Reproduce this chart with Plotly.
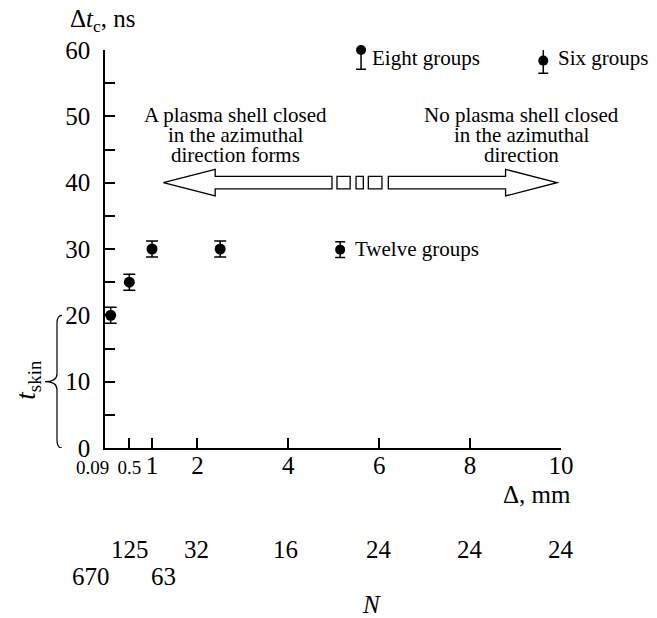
import plotly.graph_objects as go

# Measured delay time vs. gap between wires
delta_mm = [0.09, 0.5, 1.0, 2.5]
dt_ns = [20, 25, 30, 30]
dt_err = [1.2, 1.2, 1.2, 1.2]

# Key symbols for the wire-group configurations
group_names = ["Twelve groups", "Eight groups", "Six groups"]
group_x = [5.14, 5.60, 9.61]
group_y = [29.9, 60.0, 58.4]
group_err_plus = [1.2, 1.2, 2.4]
group_err_minus = [1.2, 2.9, 1.9]

# Axis ticks
x_tick_vals = [0.5, 1, 2, 4, 6, 8, 10]
x_tick_text = ['<span style="font-size:19px">0.5</span>', "1", "2", "4", "6", "8", "10"]
y_tick_vals = list(range(0, 61, 5))
y_tick_text = [str(v) if v % 10 == 0 else "" for v in y_tick_vals]

# Number of wires N under the gap axis
n_labels = ["670", "125", "63", "32", "16", "24", "24", "24"]
n_pos = [-0.34, 0.52, 1.26, 1.98, 3.94, 6.0, 8.0, 10.0]
n_row = [2, 1, 2, 1, 1, 1, 1, 1]

FONT = "Liberation Serif"
W, H = 657, 618
L, R, T, B = 105, 96, 50, 170
X_RANGE = [-0.035, 10]
Y_RANGE = [0, 60]


def px_x(p):
    return (p - L) / (W - L - R)


def px_y(p):
    return (H - B - p) / (H - B - T)


def data_x(v):
    # gap value -> paper fraction along the x axis
    return (v - X_RANGE[0]) / (X_RANGE[1] - X_RANGE[0])


fig = go.Figure()

fig.add_trace(go.Scatter(
    x=delta_mm, y=dt_ns, mode="markers",
    marker=dict(color="black", size=11),
    error_y=dict(type="data", array=dt_err, color="black", thickness=1.5, width=6),
    showlegend=False, hoverinfo="skip", cliponaxis=False,
))

for name, gx, gy, ep, em in zip(group_names, group_x, group_y, group_err_plus, group_err_minus):
    fig.add_trace(go.Scatter(
        x=[gx], y=[gy], mode="markers",
        marker=dict(color="black", size=10),
        error_y=dict(type="data", symmetric=False, array=[ep], arrayminus=[em],
                     color="black", thickness=1.5, width=5),
        showlegend=False, hoverinfo="skip", name=name, cliponaxis=False,
    ))

annotations = []


def add_text(text, x, y, size=21, xanchor="center", yref="paper", **kw):
    annotations.append(dict(
        text=text, x=x, y=y, xref="paper", yref=yref, xanchor=xanchor, yanchor="middle",
        showarrow=False, font=dict(family=FONT, size=size, color="black"), **kw))


# Group key labels
add_text("Twelve groups", data_x(5.42), px_y(249), xanchor="left")
add_text("Eight groups", data_x(5.80), px_y(58), xanchor="left")
add_text("Six groups", data_x(9.88), px_y(58), xanchor="left")

# Region descriptions
left_lines = ["A plasma shell closed", "in the azimuthal", "direction forms"]
right_lines = ["No plasma shell closed", "in the azimuthal", "direction"]
for i, (lt, rt) in enumerate(zip(left_lines, right_lines)):
    yy = px_y(114.7 + 20 * i)
    add_text(lt, data_x(2.83), yy)
    add_text(rt, data_x(9.13), yy)

# Axis titles and extra labels
add_text("Δ<i>t</i><sub>c</sub>, ns", px_x(68), px_y(20), size=25, xanchor="left")
add_text("Δ, mm", px_x(573), px_y(495), size=25, xanchor="right")
add_text("0.09", data_x(-0.32), px_y(467), size=19)
for lab, xv, row in zip(n_labels, n_pos, n_row):
    add_text(lab, data_x(xv), px_y(549 if row == 1 else 576), size=25)
add_text("<i>N</i>", px_x(371), px_y(604), size=25)
add_text("<i>t</i><sub>skin</sub>", px_x(28), 10.3, size=27, yref="y", textangle=-90)

shapes = []
line_style = dict(color="black", width=1.3)

# Double arrow with a dashed middle at 40 ns
shapes.append(dict(type="path", xref="x", yref="y", line=line_style, fillcolor="white",
                   path="M 1.25,40 L 2.39,42 L 2.39,40.95 L 4.96,40.95 L 4.96,39.05 "
                        "L 2.39,39.05 L 2.39,38 Z"))
shapes.append(dict(type="path", xref="x", yref="y", line=line_style, fillcolor="white",
                   path="M 9.91,40 L 8.78,42 L 8.78,40.95 L 6.20,40.95 L 6.20,39.05 "
                        "L 8.78,39.05 L 8.78,38 Z"))
for x0, x1 in [(5.07, 5.36), (5.49, 5.65), (5.76, 6.06)]:
    shapes.append(dict(type="rect", xref="x", yref="y", x0=x0, x1=x1, y0=39.05, y1=40.95,
                       line=line_style, fillcolor="white"))

# Brace spanning 0-20 ns
bx_end, bx_mid, bx_tip = px_x(62), px_x(57), px_x(45)
brace = (f"M {bx_end},20 Q {bx_mid},20 {bx_mid},18.8 L {bx_mid},11.2 "
         f"Q {bx_mid},10 {bx_tip},10 Q {bx_mid},10 {bx_mid},8.8 L {bx_mid},1.2 "
         f"Q {bx_mid},0 {bx_end},0")
shapes.append(dict(type="path", xref="paper", yref="y", path=brace,
                   line=dict(color="black", width=1.2)))

fig.update_layout(
    width=W, height=H,
    margin=dict(l=L, r=R, t=T, b=B, pad=0),
    paper_bgcolor="white", plot_bgcolor="white",
    font=dict(family=FONT, size=25, color="black"),
    annotations=annotations, shapes=shapes,
)

fig.update_xaxes(
    range=X_RANGE, showgrid=False, zeroline=False,
    showline=True, linecolor="black", linewidth=1.5,
    tickmode="array", tickvals=x_tick_vals, ticktext=x_tick_text,
    ticks="inside", ticklen=10, tickwidth=1.5, tickcolor="black",
    ticklabelstandoff=-6,
    tickfont=dict(family=FONT, size=25, color="black"),
)
fig.update_yaxes(
    range=Y_RANGE, showgrid=False, zeroline=False,
    showline=True, linecolor="black", linewidth=1.5,
    tickmode="array", tickvals=y_tick_vals, ticktext=y_tick_text,
    ticks="inside", ticklen=10, tickwidth=1.5, tickcolor="black",
    ticklabelstandoff=8,
    tickfont=dict(family=FONT, size=25, color="black"),
)

fig.write_html("out.html")
